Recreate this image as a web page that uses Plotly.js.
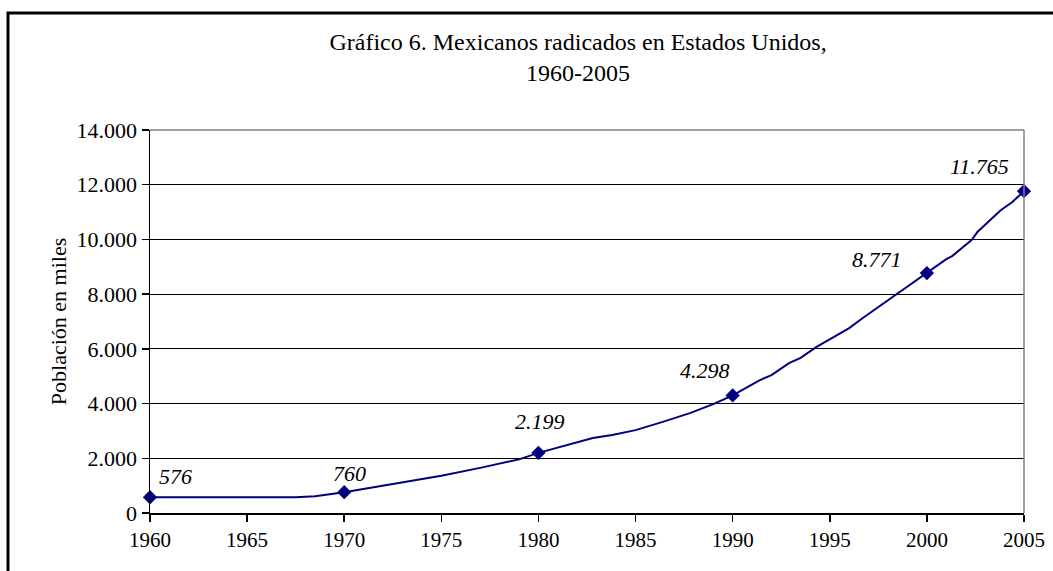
<!DOCTYPE html>
<html>
<head>
<meta charset="utf-8">
<script src="https://cdn.plot.ly/plotly-3.0.1.min.js"></script>
<style>html,body{margin:0;padding:0;background:#fff;}#chart{width:1053px;height:571px;}</style>
</head>
<body>
<div id="chart"></div>
<script>
// Curve (year, thousands of people)
const curveYears = [1960, 1967.5, 1968.5, 1969.3, 1970, 1972.5, 1975, 1977, 1979, 1980, 1982.8, 1983.8, 1985, 1986.4, 1987.8, 1989, 1990, 1991.4, 1992, 1992.9, 1993.5, 1994.3, 1996, 1996.7, 1998.5, 1999.1, 2000, 2001, 2001.3, 2002.3, 2002.6, 2003.1, 2003.8, 2004.4, 2005];
const curveValues = [576, 576, 610, 680, 760, 1060, 1360, 1650, 1960, 2199, 2740, 2850, 3030, 3330, 3650, 3980, 4298, 4860, 5040, 5480, 5670, 6060, 6760, 7130, 8040, 8330, 8771, 9280, 9390, 9980, 10270, 10600, 11070, 11370, 11765];
// Labelled points
const markYears = [1960, 1970, 1980, 1990, 2000, 2005];
const markValues = [576, 760, 2199, 4298, 8771, 11765];
const markLabels = ["576", "760", "2.199", "4.298", "8.771", "11.765"];
const xTicks = [1960, 1965, 1970, 1975, 1980, 1985, 1990, 1995, 2000, 2005];
const yTicks = [0, 2000, 4000, 6000, 8000, 10000, 12000, 14000];
const titleText = "Gráfico 6. Mexicanos radicados en Estados Unidos,<br>1960-2005";
const yTitle = "Población en miles";

const navy = "#000080";
const serif = "Liberation Serif, Times New Roman, serif";
const labelShift = [[25, -21], [5, -19], [2, -31], [-28, -25], [-50, -14], [-45, -25]];

const W = 1053, H = 571, L = 150, R = 29, T = 130, B = 58;
const pw = W - L - R, ph = H - T - B;
const px = v => (v - L) / pw;
const py = v => (H - B - v) / ph;

const traces = [
  {x: curveYears, y: curveValues, type: "scatter", mode: "lines",
   line: {color: navy, width: 2}, hoverinfo: "skip", showlegend: false},
  {x: markYears, y: markValues, type: "scatter", mode: "markers",
   marker: {symbol: "diamond", size: 11, color: navy}, showlegend: false, cliponaxis: false}
];

const annotations = markYears.map((yr, i) => ({
  x: yr, y: markValues[i], xref: "x", yref: "y", text: markLabels[i], showarrow: false,
  xshift: labelShift[i][0], yshift: -labelShift[i][1],
  font: {family: serif, size: 22, color: "#000", style: "italic"}
}));

const layout = {
  width: W, height: H,
  margin: {l: L, r: R, t: T, b: B},
  paper_bgcolor: "#fff", plot_bgcolor: "#fff",
  separators: ",.",
  font: {family: serif, color: "#000"},
  title: {text: titleText, x: 0.549, xanchor: "center", y: 1 - 50 / H, yanchor: "top",
          font: {family: serif, size: 24, color: "#000"}},
  xaxis: {range: [1960, 2005], tickvals: xTicks, ticktext: xTicks.map(String),
          showgrid: false, zeroline: false, showline: true, linecolor: "#000", linewidth: 1.5,
          ticks: "outside", ticklen: 7, tickcolor: "#000", tickwidth: 1.5,
          tickfont: {family: serif, size: 21, color: "#000"}, fixedrange: true},
  yaxis: {range: [0, 14000], tickvals: yTicks, tickformat: ",d",
          showgrid: true, gridcolor: "#000", gridwidth: 1, zeroline: false,
          showline: true, linecolor: "#000", linewidth: 1.5,
          ticks: "outside", ticklen: 7, tickcolor: "#000", tickwidth: 1.5,
          tickfont: {family: serif, size: 22, color: "#000"},
          title: {text: yTitle, font: {family: serif, size: 22, color: "#000"}, standoff: 4},
          fixedrange: true},
  annotations: annotations,
  shapes: [
    {type: "line", xref: "paper", yref: "paper", x0: 0, x1: 1, y0: 1, y1: 1, line: {color: "#808080", width: 1.5}},
    {type: "line", xref: "paper", yref: "paper", x0: 1, x1: 1, y0: 0, y1: 1, line: {color: "#808080", width: 1.5}},
    {type: "rect", xref: "paper", yref: "paper", x0: px(8), x1: px(1080), y0: py(13), y1: py(590),
     line: {color: "#000", width: 3}, layer: "above"}
  ]
};

Plotly.newPlot("chart", traces, layout, {displayModeBar: false, staticPlot: true});
</script>
</body>
</html>
